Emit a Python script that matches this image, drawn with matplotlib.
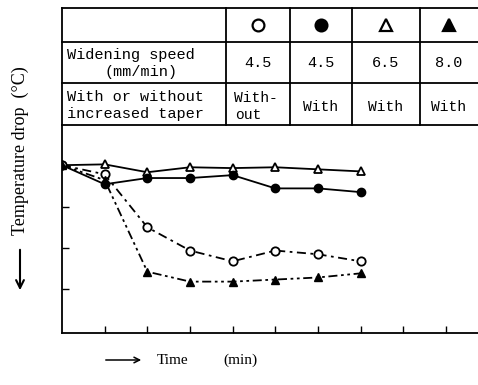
import numpy as np
import matplotlib.pyplot as plt
from matplotlib.lines import Line2D

# time steps (tick units) and temperature drop (tick units, downward)
t = [0, 1, 2, 3, 4, 5, 6, 7]
open_tri = [0, -0.02, 0.17, 0.05, 0.07, 0.05, 0.10, 0.15]
filled_circ = [0, 0.46, 0.31, 0.31, 0.24, 0.56, 0.56, 0.65]
open_circ = [0, 0.22, 1.50, 2.06, 2.32, 2.06, 2.15, 2.32]
filled_tri = [0, 0.36, 2.57, 2.81, 2.81, 2.76, 2.71, 2.61]

speeds = ["4.5", "4.5", "6.5", "8.0"]
taper = ["With", "With", "With"]

W, H = 478, 385
fig = plt.figure(figsize=(W / 100, H / 100), dpi=100)

# plot area (pixels: x 62..478, y 125..333)
ax = fig.add_axes([62 / W, 1 - 333 / H, (W - 62) / W, (333 - 125) / H])
lw = 1.3
ms = 6
ax.plot(t, open_tri, '-', color='black', lw=lw, marker='^', ms=ms,
        mfc='white', mec='black', mew=1.3, zorder=3)
ax.plot(t, filled_circ, '-', color='black', lw=lw, marker='o', ms=ms,
        mfc='black', mec='black', zorder=3)
ax.plot(t, open_circ, color='black', lw=lw, dashes=[5, 2.5, 1.5, 2.5], marker='o', ms=ms,
        mfc='white', mec='black', mew=1.3, zorder=3)
ax.plot(t, filled_tri, color='black', lw=lw, dashes=[5, 2, 1.5, 2, 1.5, 2], marker='^', ms=ms,
        mfc='black', mec='black', zorder=3)

ax.set_xlim(0, 9.75)
ax.set_ylim(4.05, -0.97)
ax.set_xticks(np.arange(1, 10))
ax.set_yticks([0, 1, 2, 3])
ax.tick_params(direction='in', length=5, width=1, labelbottom=False, labelleft=False)
ax.spines['right'].set_visible(False)
for s in ['left', 'bottom', 'top']:
    ax.spines[s].set_linewidth(1.3)

# overlay in pixel coords for the table and labels
ov = fig.add_axes([0, 0, 1, 1], facecolor='none')
ov.set_xlim(0, W)
ov.set_ylim(H, 0)
ov.axis('off')

for y in [8, 42, 83]:
    ov.add_line(Line2D([62, W], [y, y], color='black', lw=1.3))
ov.add_line(Line2D([62, 62], [8, 125], color='black', lw=1.3))
for x in [226, 290, 352, 420]:
    ov.add_line(Line2D([x, x], [8, 125], color='black', lw=1.3))

col_c = [258, 321, 386, 449]
marks = [('o', 'white'), ('o', 'black'), ('^', 'white'), ('^', 'black')]
for cx, (m, fc) in zip(col_c, marks):
    ov.plot([cx], [25], marker=m, ms=8.5, mfc=fc, mec='black', mew=1.6)

mono = 'Liberation Mono'
ov.text(67, 55, "Widening speed", ha='left', va='center', family=mono, fontsize=11)
ov.text(141, 72, "(mm/min)", ha='center', va='center', family=mono, fontsize=11)
ov.text(67, 97, "With or without", ha='left', va='center', family=mono, fontsize=11)
ov.text(67, 114, "increased taper", ha='left', va='center', family=mono, fontsize=11)
for cx, s in zip(col_c, speeds):
    ov.text(cx, 63, s, ha='center', va='center', family=mono, fontsize=11)
ov.text(234, 98, "With-", ha='left', va='center', family=mono, fontsize=10.5)
ov.text(235, 115, "out", ha='left', va='center', family=mono, fontsize=10.5)
for cx, s in zip(col_c[1:], taper):
    ov.text(cx, 107, s, ha='center', va='center', family=mono, fontsize=10.5)

serif = 'Liberation Serif'
ov.text(20, 151, "Temperature drop  (\u00b0C)", rotation=90, ha='center',
        va='center', family=serif, fontsize=13)
ov.annotate("", xy=(20, 293), xytext=(20, 247),
            arrowprops=dict(arrowstyle='->', color='black', lw=1.5,
                            mutation_scale=14))
ov.annotate("", xy=(144, 360), xytext=(103, 360),
            arrowprops=dict(arrowstyle='->', color='black', lw=1.1))
ov.text(157, 360, "Time", ha='left', va='center', family=serif, fontsize=11)
ov.text(258, 360, "(min)", ha='right', va='center', family=serif, fontsize=11)

fig.savefig('out.png', dpi=100)
